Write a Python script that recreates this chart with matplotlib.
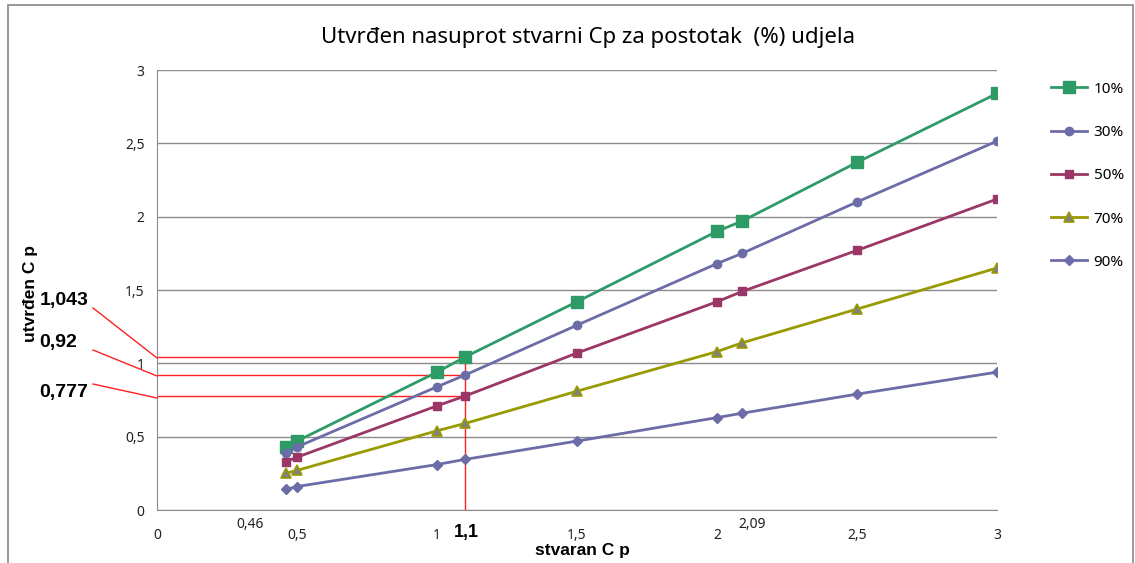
import matplotlib.pyplot as plt
from matplotlib.lines import Line2D
from matplotlib.patches import Rectangle

plt.rcParams['font.family'] = ['Noto Sans', 'DejaVu Sans']
BOLD = ['Liberation Sans', 'DejaVu Sans']

# stvarni Cp (x) i utvrdjeni Cp po udjelu
cp_actual = [0.46, 0.5, 1.0, 1.1, 1.5, 2.0, 2.09, 2.5, 3.0]
p10 = [0.43, 0.47, 0.94, 1.043, 1.42, 1.90, 1.97, 2.37, 2.84]
p30 = [0.39, 0.43, 0.84, 0.92, 1.26, 1.68, 1.75, 2.10, 2.515]
p50 = [0.33, 0.36, 0.71, 0.777, 1.07, 1.42, 1.49, 1.77, 2.12]
p70 = [0.25, 0.27, 0.54, 0.59, 0.81, 1.08, 1.14, 1.37, 1.65]
p90 = [0.14, 0.16, 0.31, 0.345, 0.47, 0.63, 0.66, 0.79, 0.94]

x_ticks = [0, 0.5, 1, 1.5, 2, 2.5, 3]
y_ticks = [0, 0.5, 1, 1.5, 2, 2.5, 3]
marked_x = 1.1
marked_y = [1.043, 0.92, 0.777]
marked_labels = ['1,043', '0,92', '0,777']

W, H = 1135, 563
fig = plt.figure(figsize=(W / 100, H / 100), dpi=100)
ax = fig.add_axes([157 / W, 1 - 510 / H, (997 - 157) / W, (510 - 70) / H])

def fx(px):
    return px / W

def fy(py):
    return 1 - py / H

# chart border
fig.patches.append(Rectangle((fx(8), fy(1200)), fx(1125), fy(5) - fy(1200),
                             transform=fig.transFigure, fill=False,
                             edgecolor='#888888', lw=1.2))

green = '#2e9a66'
blue = '#6c6ca8'
maroon = '#9b3766'
olive = '#999900'
red = '#ff2020'

ax.plot(cp_actual, p10, color=green, lw=2, marker='s', ms=9, label='10%')
ax.plot(cp_actual, p30, color=blue, lw=2, marker='o', ms=6, label='30%')
ax.plot(cp_actual, p50, color=maroon, lw=2, marker='s', ms=6, label='50%')
ax.plot(cp_actual, p70, color=olive, lw=2, marker='^', ms=7,
        markerfacecolor='#808080', markeredgecolor=olive, markeredgewidth=1.2, label='70%')
ax.plot(cp_actual, p90, color=blue, lw=2, marker='D', ms=5.5, label='90%')

# red marker lines
for yv in marked_y:
    ax.plot([0, marked_x], [yv, yv], color=red, lw=1, zorder=1)
ax.plot([marked_x, marked_x], [0, max(marked_y)], color=red, lw=1, zorder=1)

ax.set_xlim(0, 3)
ax.set_ylim(0, 3)
ax.set_xticks(x_ticks)
ax.set_xticklabels([f'{v:g}'.replace('.', ',') for v in x_ticks])
ax.set_yticks(y_ticks)
ax.set_yticklabels([f'{v:g}'.replace('.', ',') for v in y_ticks])
ax.tick_params(length=0, labelsize=10, colors='#222222')
ax.tick_params(axis='x', pad=13)
ax.tick_params(axis='y', pad=9)
ax.grid(axis='y', color='#8c8c8c', lw=1)
ax.set_axisbelow(True)
for s in ['top', 'right']:
    ax.spines[s].set_visible(False)
for s in ['left', 'bottom']:
    ax.spines[s].set_color('#8c8c8c')

fig.text(0.5 * (157 + 997) / W + 0.01, fy(38), 'Utvrđen nasuprot stvarni Cp za postotak  (%) udjela',
         ha='center', va='center', fontsize=16)
fig.text(fx(582), fy(551), 'stvaran C p', ha='center', va='center', fontsize=12.5,
         fontweight='bold', family=BOLD)
fig.text(fx(30), fy(293), 'utvrđen C p', ha='center', va='center', rotation=90,
         fontsize=12.5, fontweight='bold', family=BOLD)

# extra x labels
fig.text(fx(250), fy(524), '0,46', ha='center', va='center', fontsize=10, color='#222222')
fig.text(fx(466), fy(532), '1,1', ha='center', va='center', fontsize=13,
         fontweight='bold', family=BOLD)
fig.text(fx(752), fy(524), '2,09', ha='center', va='center', fontsize=10, color='#222222')

# leader lines and labels for marked values
label_pos = [(64, 300), (58, 343), (64, 392)]
leader = [((93, 308), (157, 358)), ((93, 350), (157, 376)), ((93, 384), (157, 398))]
for txt, (lx, ly), ((x0, y0), (x1, y1)) in zip(marked_labels, label_pos, leader):
    fig.text(fx(lx), fy(ly), txt, ha='center', va='center', fontsize=14,
             fontweight='bold', family=BOLD)
    fig.add_artist(Line2D([fx(x0), fx(x1)], [fy(y0), fy(y1)], color=red, lw=1,
                          transform=fig.transFigure))

fig.legend(loc='upper left', bbox_to_anchor=(fx(1037), fy(68)), frameon=False,
           fontsize=11, handlelength=2.4, labelspacing=1.85, handletextpad=0.4)

fig.savefig('out.png', dpi=100)
